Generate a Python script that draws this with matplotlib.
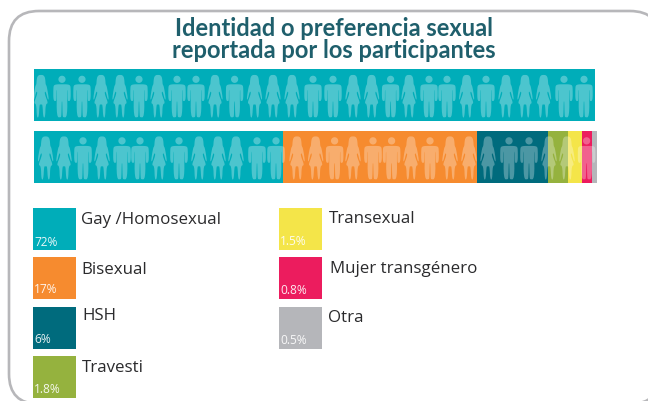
#!/usr/bin/env python3
"""Identidad o preferencia sexual: stacked pictogram bars with a square legend."""

import numpy as np
import matplotlib
matplotlib.use("Agg")
import matplotlib.pyplot as plt
from matplotlib.patches import FancyBboxPatch, PathPatch, Rectangle
from matplotlib.path import Path

# Data
categories = ["Gay /Homosexual", "Bisexual", "HSH", "Travesti",
              "Transexual", "Mujer transgénero", "Otra"]
percent_labels = ["72%", "17%", "6%", "1.8%", "1.5%", "0.8%", "0.5%"]
# segment widths as drawn in the picture (not proportional to the percentages)
drawn_widths = [249, 194, 71, 20, 14, 10, 5]
full_bar_width = [561]
colors = ["#00adb9", "#f68b2f", "#006b7d", "#95b23e", "#f4e549", "#ec1c5e", "#b5b6ba"]

top_people = "wmmwwmwmmwmwwwmmwwmwmmwmwwwmm"
top_x = [41, 62, 82, 101, 120, 139, 158, 177, 196, 215, 234.6, 254.5, 273, 292, 313,
         333, 353, 371.6, 390.6, 409, 429, 447, 466.6, 486, 506, 525, 543.6, 564, 584]
bottom_people = "wwmwmmwmwwwmmwwmwmmwmwwwmmwwm"
bottom_x = [45.6, 64, 83, 102, 122, 140, 159, 179, 199, 218, 236, 257, 276, 297, 315.6,
            334.6, 353, 373, 391.6, 411, 430, 450, 469, 488, 509, 529, 549, 567, 586.6]

# Legend layout: swatch left, swatch top, text x, text baseline, pct baseline
legend_left = [33, 33, 33, 33, 279, 279, 279]
legend_top = [208.6, 257.6, 307.6, 356.6, 208.6, 257.6, 307.6]
legend_text_x = [81, 81, 82, 82, 329, 330, 328]
legend_text_y = [224, 274, 320.5, 372, 223, 273, 322.5]
legend_pct_y = [246, 293, 343, 393, 245, 294, 344.5]

plt.rcParams["font.family"] = ["Open Sans", "DejaVu Sans"]

fig = plt.figure(figsize=(6.48, 4.02), dpi=100)
ax = fig.add_axes([0, 0, 1, 1])
ax.set_xlim(0, 648)
ax.set_ylim(402, 0)
ax.axis("off")

# Rounded frame, runs off the right and bottom edge
ax.add_patch(FancyBboxPatch((9, 12), 651, 393, boxstyle="round,pad=0,rounding_size=30",
                            fc="white", ec="#b7b7ba", lw=1.9, zorder=1))

# Title
ax.text(334, 36.5, "Identidad o preferencia sexual", ha="center", va="baseline",
        fontsize=17, fontweight="bold", color="#1f5f6c", zorder=3,
        family=["Lato", "DejaVu Sans"])
ax.text(334, 58, "reportada por los participantes", ha="center", va="baseline",
        fontsize=17, fontweight="bold", color="#1f5f6c", zorder=3,
        family=["Lato", "DejaVu Sans"])

# Bars
ax.barh([95.6], full_bar_width, left=34, height=52, color=colors[0], lw=0, zorder=2)
lefts = 34 + np.concatenate([[0], np.cumsum(drawn_widths)[:-1]])
ax.barh([157.6] * len(drawn_widths), drawn_widths, left=lefts, height=52,
        color=colors, lw=0, zorder=2)


# People icons, half outlines in px for a 42 px tall figure
def mirrored(half):
    half = np.array(half, float)
    other = half[::-1] * [-1, 1]
    return np.vstack([half, other])


def smooth(points, passes=2):
    # corner cutting, keeps the little figures rounded
    for _ in range(passes):
        nxt = np.roll(points, -1, axis=0)
        points = np.column_stack([0.75 * points + 0.25 * nxt,
                                  0.25 * points + 0.75 * nxt]).reshape(-1, 2)
    return points


man_half = [(0, 8.8), (5, 8.8), (8.2, 9.6), (8.7, 13), (8.7, 25), (6.2, 25.8), (5.7, 24),
            (5.7, 14.5), (5.2, 14.5), (5.4, 41.5), (1.2, 42), (0.6, 40), (0.3, 26), (0, 26)]
woman_half = [(0, -0.6), (2.2, -0.4), (3.8, 1.4), (4.4, 5), (4.6, 9), (5.8, 10.6), (7.9, 23.5), (6.8, 24.4),
              (4.8, 16), (3.6, 16.5), (4.2, 20), (7.2, 27.8), (4.6, 28.6), (4.2, 42), (2.2, 42),
              (1.5, 29), (0.4, 29), (0, 29)]


def circle_points(cx, cy, r, n=24):
    t = np.linspace(0, 2 * np.pi, n, endpoint=False)
    return np.column_stack([cx + r * np.cos(t), cy + r * np.sin(t)])


man_body = smooth(mirrored(man_half))
man_head = circle_points(0, 3.8, 3.6)
woman_body = smooth(mirrored(woman_half))


def draw_person(kind, x, top, height, alpha=0.3):
    k = height / 42
    if kind == "m":
        parts = [man_body, man_head]
    else:
        parts = [woman_body]
    paths = [Path(np.vstack([p * k + [x, top], p[:1] * k + [x, top]]), closed=True) for p in parts]
    ax.add_patch(PathPatch(Path.make_compound_path(*paths), fc="white", ec="none",
                           alpha=alpha, zorder=4))


for kind, x in zip(top_people, top_x):
    draw_person(kind, x, 76.5, 42)
for kind, x in zip(bottom_people, bottom_x):
    draw_person(kind, x, 138, 42.5)

# Legend
for i, name in enumerate(categories):
    ax.add_patch(Rectangle((legend_left[i], legend_top[i]), 43, 42, fc=colors[i], ec="none", zorder=2))
    ax.text(legend_text_x[i], legend_text_y[i], name, ha="left", va="baseline",
            fontsize=12.2, color="#2b2b2d", zorder=3)
    ax.text(legend_left[i] + 1, legend_pct_y[i], percent_labels[i], ha="left", va="baseline",
            fontsize=8.6, color="white", alpha=0.9, zorder=3)

fig.savefig("out.png", dpi=100, facecolor="white")
